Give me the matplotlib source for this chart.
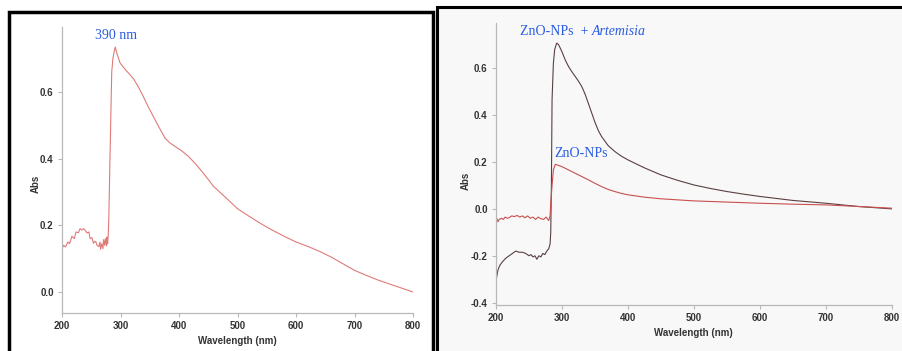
import numpy as np
import matplotlib
matplotlib.use('Agg')
import matplotlib.pyplot as plt
from matplotlib.patches import Rectangle

# left panel spectrum
wl_a = [200, 203, 206, 210, 213, 217, 221, 224, 228, 231, 234, 237, 240, 243, 246, 248, 251,
        254, 256, 258, 260, 263, 265, 266, 268, 270, 271, 273, 274, 276, 277, 278, 279,
        280, 282, 285, 287, 289, 291, 294, 299, 306, 313, 322, 330, 338, 347, 356, 365,
        376, 384, 393, 405, 416, 428, 439, 449, 459, 480, 500, 520, 540, 560, 580, 600,
        620, 640, 660, 680, 700, 720, 740, 760, 780, 800]
abs_a = [0.13, 0.14, 0.135, 0.15, 0.145, 0.167, 0.16, 0.18, 0.178, 0.19, 0.186, 0.19, 0.184,
         0.177, 0.18, 0.16, 0.163, 0.146, 0.152, 0.15, 0.14, 0.136, 0.15, 0.128, 0.145,
         0.13, 0.157, 0.14, 0.16, 0.138, 0.165, 0.145, 0.17, 0.22, 0.40, 0.66, 0.70, 0.72,
         0.735, 0.715, 0.688, 0.672, 0.658, 0.64, 0.617, 0.59, 0.557, 0.527, 0.497, 0.462,
         0.448, 0.437, 0.423, 0.407, 0.385, 0.362, 0.34, 0.317, 0.283, 0.25, 0.227, 0.205,
         0.185, 0.167, 0.15, 0.137, 0.122, 0.105, 0.085, 0.065, 0.05, 0.036, 0.024, 0.012,
         0.0]

# right panel: ZnO-NPs + Artemisia (dark line)
wl_b = [200, 201, 203, 206, 210, 215, 220, 225, 230, 235, 240, 245, 250, 253, 256, 259, 262,
        265, 268, 271, 274, 277, 280, 282, 283, 284, 285, 287, 289, 292, 295, 300, 305,
        310, 315, 320, 325, 330, 335, 340, 345, 350, 355, 360, 370, 380, 390, 400, 425,
        450, 475, 500, 525, 550, 575, 600, 650, 700, 750, 800]
abs_art = [-0.32, -0.29, -0.26, -0.24, -0.225, -0.21, -0.20, -0.19, -0.18, -0.185, -0.185,
           -0.19, -0.20, -0.195, -0.205, -0.20, -0.215, -0.20, -0.205, -0.19, -0.195, -0.18,
           -0.17, -0.15, -0.10, 0.10, 0.465, 0.62, 0.68, 0.707, 0.70, 0.67, 0.635, 0.607,
           0.585, 0.565, 0.545, 0.522, 0.49, 0.45, 0.41, 0.37, 0.335, 0.309, 0.27, 0.245,
           0.225, 0.209, 0.175, 0.145, 0.122, 0.102, 0.087, 0.074, 0.063, 0.053, 0.036,
           0.024, 0.01, 0.0]

# right panel: ZnO-NPs (red line)
wl_c = [200, 201, 203, 205, 208, 211, 214, 217, 220, 224, 228, 232, 236, 240, 244, 248, 252,
        256, 260, 264, 268, 272, 276, 280, 282, 283, 285, 287, 290, 295, 300, 310, 320,
        330, 340, 350, 360, 370, 380, 390, 400, 425, 450, 500, 550, 600, 650, 700, 750,
        800]
abs_zno = [-0.06, -0.04, -0.055, -0.045, -0.04, -0.045, -0.035, -0.04, -0.037, -0.03,
           -0.033, -0.028, -0.035, -0.03, -0.038, -0.03, -0.04, -0.035, -0.045, -0.035,
           -0.042, -0.045, -0.035, -0.05, -0.03, 0.024, 0.10, 0.166, 0.19, 0.185, 0.18,
           0.166, 0.152, 0.138, 0.124, 0.109, 0.095, 0.083, 0.074, 0.066, 0.06, 0.05, 0.043,
           0.034, 0.029, 0.024, 0.02, 0.017, 0.01, 0.003]

xticks = [200, 300, 400, 500, 600, 700, 800]

plt.rcParams['font.family'] = ['Liberation Sans Narrow', 'Liberation Sans', 'DejaVu Sans']

fig = plt.figure(figsize=(9.03, 3.51), dpi=100)

# panel frames, kept behind the axes
fig.patches.append(Rectangle((437 / 903, -0.05), 0.6, 1 - 7 / 351 + 0.05,
                             transform=fig.transFigure, facecolor='#f8f8f8',
                             edgecolor='black', lw=2.2, zorder=-5))
fig.patches.append(Rectangle((9.5 / 903, -0.05), 424 / 903, 1 - 11.5 / 351 + 0.05,
                             transform=fig.transFigure, facecolor='white',
                             edgecolor='black', lw=2.5, zorder=-4))

ax1 = fig.add_axes([62 / 903, 38 / 351, 351 / 903, 286 / 351])
ax2 = fig.add_axes([496 / 903, 46 / 351, 395.7 / 903, 282.3 / 351])

for ax in (ax1, ax2):
    ax.patch.set_alpha(0)
    for s in ('top', 'right'):
        ax.spines[s].set_visible(False)
    for s in ('left', 'bottom'):
        ax.spines[s].set_color('#b8b8b8')
        ax.spines[s].set_linewidth(0.9)
    ax.set_xlim(200, 800)
    ax.set_xticks(xticks)
    ax.tick_params(length=3, width=0.8, color='#b8b8b8', labelsize=7,
                   labelcolor='#333333', pad=3)
    for lab in ax.get_xticklabels() + ax.get_yticklabels():
        lab.set_fontweight('bold')
    ax.set_xlabel('Wavelength (nm)', fontsize=7, fontweight='bold', color='#333333', labelpad=3)
    ax.set_ylabel('Abs', fontsize=7, fontweight='bold', color='#333333')

ann = dict(color='#2a5be0', fontsize=10, family='Liberation Serif', va='center')

ax1.plot(wl_a, abs_a, color='#e07a78', lw=0.8)
ax1.set_ylim(-0.063, 0.795)
ax1.set_yticks([0.0, 0.2, 0.4, 0.6])
ax1.set_yticklabels(['0.0', '0.2', '0.4', '0.6'], fontweight='bold')
ax1.yaxis.set_label_coords(-0.06, 0.45)
ax1.text(292, 0.77, '390 nm', ha='center', **ann)

ax2.plot(wl_b, abs_art, color='#5a4040', lw=0.8)
ax2.plot(wl_c, abs_zno, color='#c9504e', lw=0.8)
ax2.set_ylim(-0.41, 0.794)
ax2.set_yticks([-0.4, -0.2, 0.0, 0.2, 0.4, 0.6])
ax2.set_yticklabels(['-0.4', '-0.2', '0.0', '0.2', '0.4', '0.6'], fontweight='bold')
ax2.yaxis.set_label_coords(-0.065, 0.44)
t = ax2.text(236, 0.757, 'ZnO-NPs  + ', ha='left', **ann)
ax2.annotate('Artemisia', xy=(1, 0.5), xycoords=t, ha='left', fontstyle='italic', **ann)
ax2.text(289, 0.238, 'ZnO-NPs', ha='left', **ann)

fig.savefig('out.png', dpi=100)
